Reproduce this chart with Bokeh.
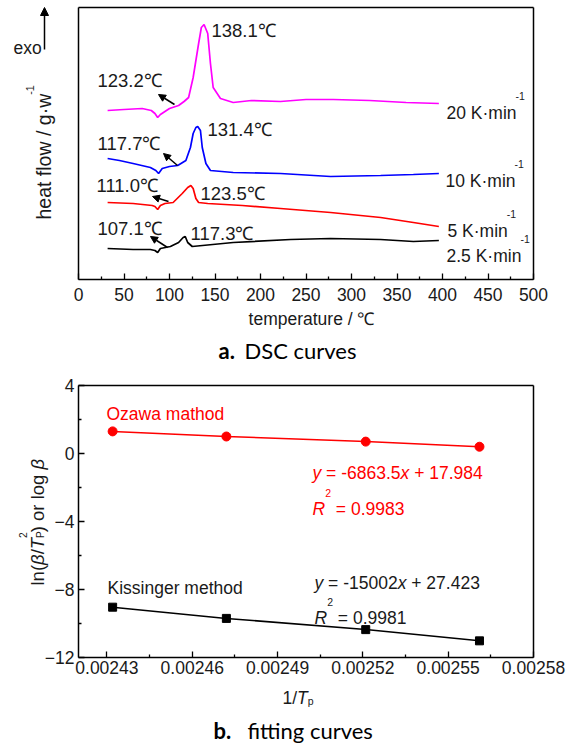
import math
from bokeh.plotting import figure
from bokeh.models import Label, Arrow, NormalHead, FixedTicker, Range1d, NumeralTickFormatter, LinearAxis
from bokeh.layouts import column
from bokeh.embed import file_html
from bokeh.resources import INLINE

FONT = "Liberation Sans"
CAP_FONT = "Lato"
INK = "#1a1a1a"
TXT = 17.5      # annotation / tick text size
TEMP = 18.5     # temperature annotation size

# ---------------- (a) DSC curves (heat flow in arbitrary, offset units) ----------------
temp_20 = [32, 50, 70, 80, 84, 87, 90, 95, 100, 110, 116, 121, 126, 132, 135, 138, 142, 145, 148, 156, 170, 190, 222, 250, 280, 320, 360, 396]
heat_20 = [169, 170, 171, 169, 166, 162, 165, 168, 171, 174, 178, 182, 202, 236, 252, 255, 246, 216, 192, 181, 177, 179, 178, 180, 180, 179, 177, 176]

temp_10 = [32, 45, 60, 79, 85, 88, 92, 100, 109, 118, 123, 126, 129, 131, 134, 136, 140, 145, 170, 222, 277, 332, 368, 396]
heat_10 = [121, 119, 116, 112, 109, 106, 111, 113, 114, 119, 132, 146, 152, 153, 149, 132, 116, 109, 107, 106, 103, 104, 105, 106]

temp_5 = [32, 60, 81, 84, 87, 90, 95, 104, 114, 120, 123.5, 126, 129, 132, 142, 180, 222, 277, 332, 368, 396]
heat_5 = [77, 76, 74, 73, 70, 74, 76, 77, 86, 92, 94, 91, 81, 77, 76, 74, 71, 67, 62, 57, 53]

temp_2_5 = [32, 60, 79, 84, 87, 90, 101, 110, 115, 117.3, 120, 125, 170, 233, 277, 332, 368, 396]
heat_2_5 = [31, 30, 30, 29, 27, 31, 33, 37, 42, 43, 37, 33, 37, 40, 41, 40, 38, 39]

series_colors = ["#ff00ff", "#0000ff", "#ff0000", "#000000"]
rate_labels = ["20 K·min", "10 K·min", "5 K·min", "2.5 K·min"]
peak_labels = ["138.1℃", "131.4℃", "123.5℃", "117.3℃"]
onset_labels = ["123.2℃", "117.7℃", "111.0℃", "107.1℃"]
x_ticks_a = [0, 50, 100, 150, 200, 250, 300, 350, 400, 450, 500]
x_minor_a = [25, 75, 125, 175, 225, 275, 325, 375, 425, 475]

# ---------------- (b) fitting curves ----------------
inv_tp = [0.002432, 0.002472, 0.002521, 0.002561]
ozawa = [1.301, 1.000, 0.699, 0.398]
kissinger = [-9.04, -9.70, -10.36, -11.02]
x_ticks_b = [0.00243, 0.00246, 0.00249, 0.00252, 0.00255, 0.00258]
x_minor_b = [0.002445, 0.002475, 0.002505, 0.002535, 0.002565]
y_ticks_b = [-12, -8, -4, 0, 4]
y_minor_b = [-10, -6, -2, 2]

# approximate Arial/Liberation advance widths (per 1000 em)
WID = {**{d: 556 for d in "0123456789"}, ".": 278, " ": 278, "-": 333, "=": 584, "+": 584,
       "y": 500, "x": 500, "R": 722, "l": 222, "n": 556, "(": 333, ")": 333, "/": 278,
       "T": 611, "o": 556, "r": 333, "g": 556, "β": 573, "h": 556, "e": 556, "a": 556,
       "t": 278, "f": 278, "w": 722, "·": 278, "K": 667, "m": 833, "i": 222, "p": 556, "P": 667}


def tw(s, size):
    return sum(WID.get(c, 556) for c in s) / 1000.0 * size


def rich(p, x, y, runs, size, color, angle=0.0):
    """runs: (text, style, scale, dy_px, advance). (x, y) is the baseline start."""
    adv = 0.0
    for txt, style, sc, dy, go in runs:
        fs = size * sc
        lead = len(txt) - len(txt.lstrip(" "))
        adv += tw(" " * lead, fs)
        core = txt.strip(" ")
        if angle == 0:
            xo, yo = adv, dy
        else:
            xo, yo = -dy, adv
        p.add_layout(Label(x=x, y=y, x_offset=xo, y_offset=yo, text=core, angle=angle,
                           text_font=FONT, text_font_style=style, text_font_size=f"{fs:.1f}px",
                           text_color=color, text_align="left", text_baseline="alphabetic"))
        if go:
            adv += tw(core, fs)
            trail = len(txt) - len(txt.rstrip(" "))
            adv += tw(" " * trail, fs)


def plain(p, x, y, txt, size, color, align="left", style="normal", font=FONT, baseline="middle"):
    p.add_layout(Label(x=x, y=y, text=txt, text_font=font, text_font_style=style,
                       text_font_size=f"{size}px", text_color=color, text_align=align,
                       text_baseline=baseline))


def frame_axis(fixed, bounds, ticks=None, minor=None, standoff=8):
    ax = LinearAxis(fixed_location=fixed, bounds=bounds)
    ax.axis_line_width = 1.5
    ax.axis_line_color = "black"
    if ticks is None:
        ax.ticker = FixedTicker(ticks=[], minor_ticks=[])
        ax.major_tick_in = 0
        ax.major_tick_out = 0
        ax.minor_tick_in = 0
        ax.minor_tick_out = 0
    else:
        ax.ticker = FixedTicker(ticks=ticks, minor_ticks=minor)
        ax.major_tick_in = 6
        ax.major_tick_out = 0
        ax.minor_tick_in = 3
        ax.minor_tick_out = 0
        ax.major_tick_line_width = 1.3
        ax.minor_tick_line_width = 1.3
        ax.major_tick_line_color = "black"
        ax.minor_tick_line_color = "black"
        ax.major_label_text_font = FONT
        ax.major_label_text_font_size = f"{TXT}px"
        ax.major_label_text_color = INK
        ax.major_label_standoff = standoff
    return ax


def base_fig(width, height, xr, yr):
    p = figure(width=width, height=height, output_backend="svg", toolbar_location=None,
               x_range=Range1d(*xr), y_range=Range1d(*yr), x_axis_location=None,
               y_axis_location=None, min_border=0, title=None)
    p.grid.visible = False
    p.outline_line_color = None
    return p


# ======================= figure (a) =======================
def a_x(px):
    return (px - 78) * 500 / 455


def a_y(py):
    return 279 - py


p1 = base_fig(573, 370, (a_x(0), a_x(573)), (a_y(370), a_y(0)))
p1.add_layout(frame_axis(0, (0, 500), x_ticks_a, x_minor_a, 8), "below")
p1.add_layout(frame_axis(272, (0, 500)), "above")
p1.add_layout(frame_axis(0, (0, 272)), "left")
p1.add_layout(frame_axis(500, (0, 272)), "right")

for t, h, c in zip([temp_20, temp_10, temp_5, temp_2_5], [heat_20, heat_10, heat_5, heat_2_5], series_colors):
    p1.line(t, h, line_color=c, line_width=1.7)

peak_pos = [(211, 30), (207, 129), (200, 193), (190, 233)]
onset_pos = [(97, 80), (97, 143), (96, 185), (97, 228)]
for lab, (px, py) in zip(peak_labels, peak_pos):
    plain(p1, a_x(px), a_y(py), lab, TEMP, INK)
for lab, (px, py) in zip(onset_labels, onset_pos):
    plain(p1, a_x(px), a_y(py), lab, TEMP, INK)

arrows = [((174, 104), (158, 94)), ((177, 165), (163, 153)), ((168, 201), (152, 196)), ((167, 247), (150, 236))]
for (tx, ty), (hx, hy) in arrows:
    p1.add_layout(Arrow(end=NormalHead(size=7, fill_color="black", line_color="black", line_width=1),
                        x_start=a_x(tx), y_start=a_y(ty), x_end=a_x(hx), y_end=a_y(hy),
                        line_color="black", line_width=1.5))

rate_pos = [(446, 112), (445, 180), (447, 230), (446, 255)]
for lab, (px, py) in zip(rate_labels, rate_pos):
    rich(p1, a_x(px), a_y(py), [(lab, "normal", 1.0, 0, True), ("-1", "normal", 0.6, 17, True)], TXT, INK)

# exo arrow and label
plain(p1, a_x(13), a_y(47), "exo", TXT, INK, baseline="alphabetic")
p1.add_layout(Arrow(end=NormalHead(size=8, fill_color="black", line_color="black", line_width=1),
                    x_start=a_x(44), y_start=a_y(49), x_end=a_x(44), y_end=a_y(7),
                    line_color="black", line_width=1.5))

# axis titles
rich(p1, a_x(43), a_y(219),
     [("heat flow / g·w", "normal", 1.0, 0, True), ("-1", "normal", 0.55, 14, True)],
     19.5, INK, angle=math.pi / 2)
plain(p1, a_x(311), a_y(318), "temperature / ℃", TXT, INK, align="center")

# caption a
plain(p1, a_x(218), a_y(350), "a.", 22, "black", style="bold", font=CAP_FONT)
plain(p1, a_x(244), a_y(350), "DSC curves", 22, "black", font=CAP_FONT)


# ======================= figure (b) =======================
def b_x(px):
    return 0.00242 + (px - 78) * 0.00016 / 455


def b_y(py):
    return 4 - (py - 385) * 16 / 272


p2 = base_fig(573, 374, (b_x(0), b_x(573)), (b_y(744), b_y(370)))
p2.add_layout(frame_axis(-12, (0.00242, 0.00258), x_ticks_b, x_minor_b, 3), "below")
p2.below[0].formatter = NumeralTickFormatter(format="0.00000")
p2.add_layout(frame_axis(0.00242, (-12, 4), y_ticks_b, y_minor_b, 4), "left")
p2.add_layout(frame_axis(4, (0.00242, 0.00258)), "above")
p2.add_layout(frame_axis(0.00258, (-12, 4)), "right")

p2.line(inv_tp, ozawa, line_color="#ff0000", line_width=1.5)
p2.scatter(inv_tp, ozawa, marker="circle", size=9, fill_color="#ff0000", line_color="#ff0000")
p2.line(inv_tp, kissinger, line_color="black", line_width=1.5)
p2.scatter(inv_tp, kissinger, marker="square", size=8, fill_color="black", line_color="black")

plain(p2, b_x(106), b_y(413), "Ozawa mathod", TXT, "#ff0000")
rich(p2, b_x(312), b_y(472),
     [("y", "italic", 1, 0, True), (" = -6863.5", "normal", 1, 0, True), ("x", "italic", 1, 0, True),
      (" + 17.984", "normal", 1, 0, True)], TXT, "#ff0000")
rich(p2, b_x(312), b_y(508),
     [("R", "italic", 1, 0, True), ("2", "normal", 0.6, 16, True), (" = 0.9983", "normal", 1, 0, True)],
     TXT, "#ff0000")

plain(p2, b_x(107), b_y(587), "Kissinger method", TXT, INK)
rich(p2, b_x(314), b_y(582),
     [("y", "italic", 1, 0, True), (" = -15002", "normal", 1, 0, True), ("x", "italic", 1, 0, True),
      (" + 27.423", "normal", 1, 0, True)], TXT, INK)
rich(p2, b_x(314), b_y(617),
     [("R", "italic", 1, 0, True), ("2", "normal", 0.6, 16, True), (" = 0.9981", "normal", 1, 0, True)],
     TXT, INK)

# x title 1/Tp
rich(p2, b_x(282), b_y(697),
     [("1/", "normal", 1, 0, True), ("T", "italic", 1, 0, True), ("p", "normal", 0.6, -3, True)], TXT, INK)

# y title rotated
rich(p2, b_x(37), b_y(585),
     [("ln(", "normal", 1, 0, True), ("β", "italic", 1, 0, True), ("/", "normal", 1, 0, True),
      ("T", "italic", 1, 0, True), ("P", "normal", 0.55, -3, False), ("2", "normal", 0.55, 15, True),
      (")", "normal", 1, 0, True), (" or log ", "normal", 1, 0, True), ("β", "italic", 1, 0, True)],
     18.5, INK, angle=math.pi / 2)

# caption b
plain(p2, b_x(213), b_y(730), "b.", 22, "black", style="bold", font=CAP_FONT)
plain(p2, b_x(247), b_y(730), "fitting curves", 22, "black", font=CAP_FONT)

layout = column(p1, p2)
open("out.html", "w").write(file_html(layout, INLINE))
